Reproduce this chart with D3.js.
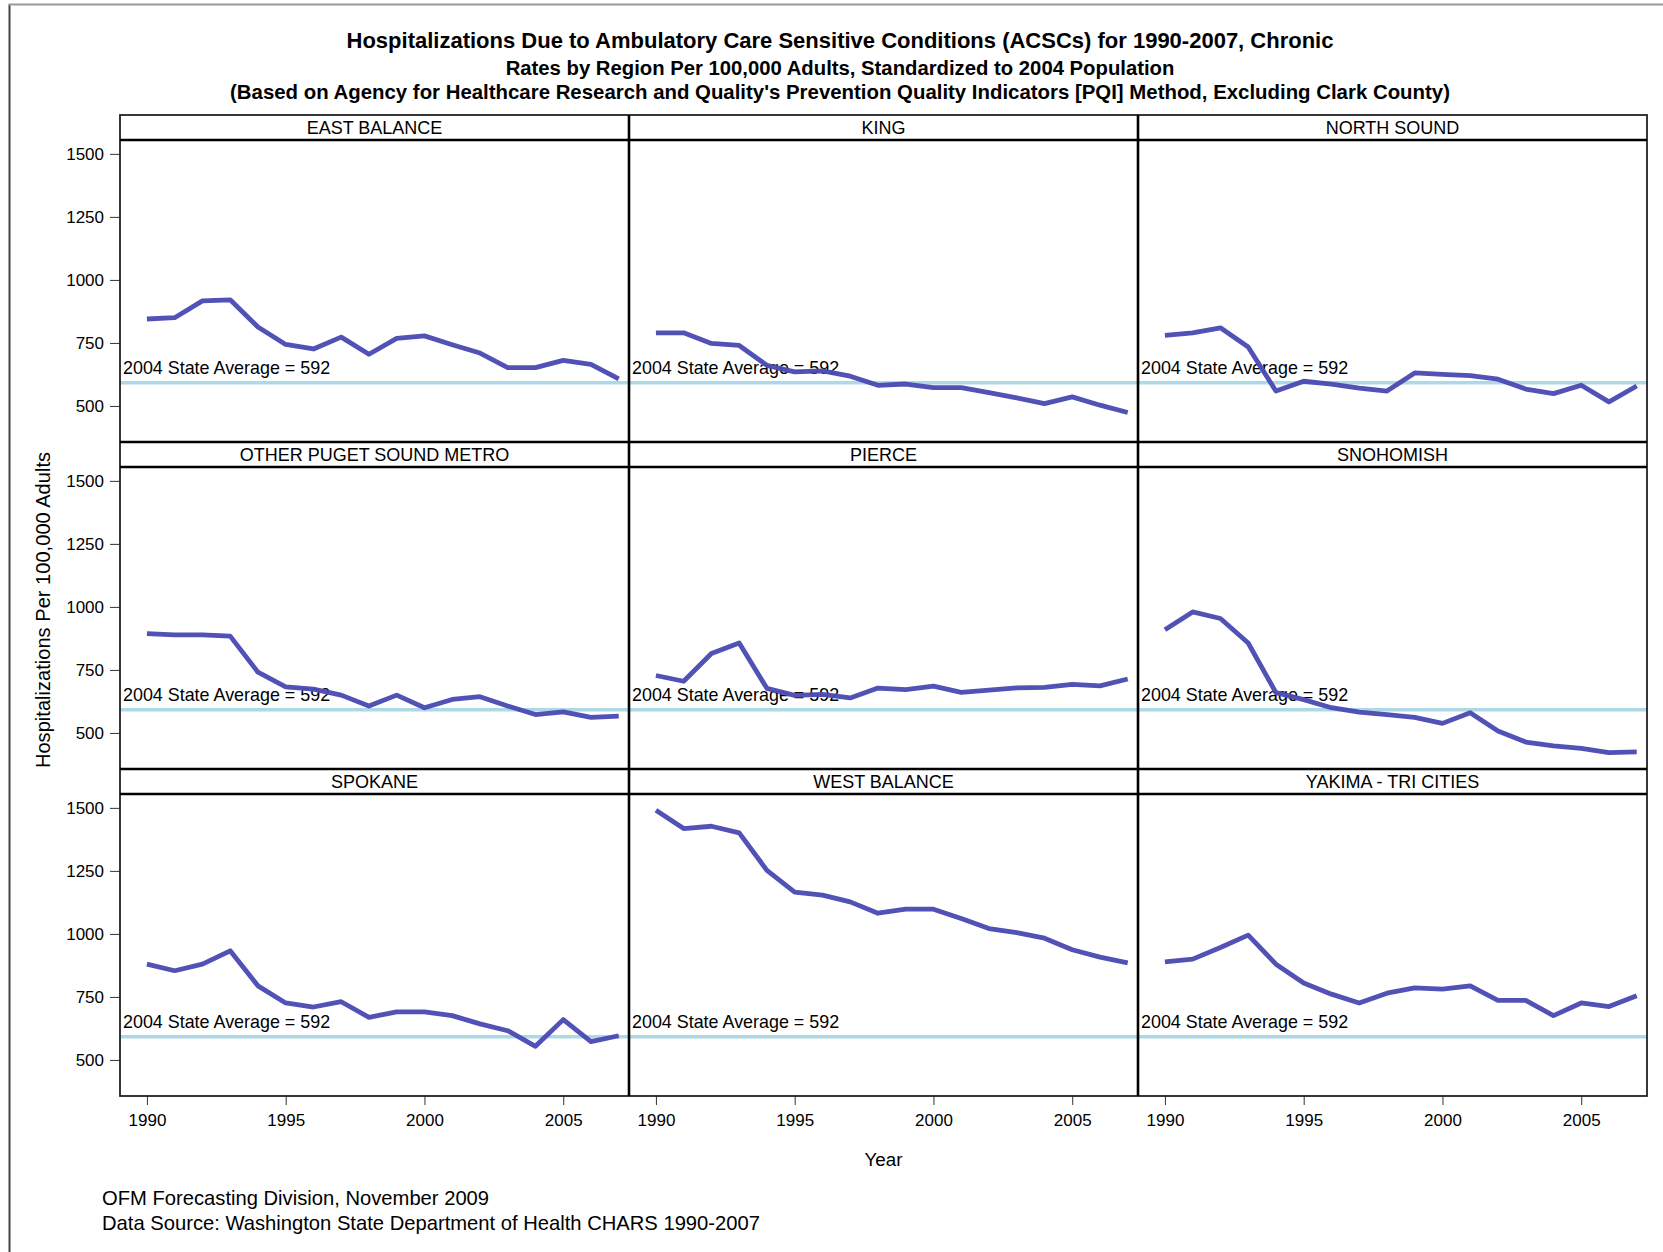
<!DOCTYPE html>
<html><head><meta charset="utf-8">
<script src="https://cdn.jsdelivr.net/npm/d3@7"></script>
<style>
body{margin:0;background:#fff}
svg{display:block}
text{font-family:"Liberation Sans",Arial,sans-serif;fill:#000}
</style>
</head><body>
<svg id="chart" width="1663" height="1252"></svg>
<script>
// ---- data ----
const years = [1990,1991,1992,1993,1994,1995,1996,1997,1998,1999,2000,2001,2002,2003,2004,2005,2006,2007];
const regions = ["EAST BALANCE","KING","NORTH SOUND","OTHER PUGET SOUND METRO","PIERCE","SNOHOMISH","SPOKANE","WEST BALANCE","YAKIMA - TRI CITIES"];
const eastBalance   = [845,850,917,921,813,744,726,773,705,768,778,743,710,652,652,681,665,607];
const king          = [790,790,748,740,661,635,639,618,582,587,573,573,553,532,509,536,503,474];
const northSound    = [780,790,810,734,559,598,587,571,559,631,625,620,606,567,549,582,516,579];
const otherPuget    = [894,889,889,884,741,683,674,650,607,650,600,633,644,607,573,584,562,567];
const pierce        = [728,705,815,857,677,649,653,639,678,672,686,661,670,679,681,693,687,714];
const snohomish     = [909,980,954,857,660,632,600,583,573,562,538,580,508,464,449,439,422,425];
const spokane       = [880,854,880,933,794,726,710,731,669,691,691,676,643,616,554,660,573,596];
const westBalance   = [1491,1418,1427,1401,1252,1166,1154,1127,1082,1098,1098,1061,1021,1005,983,937,908,885];
const yakima        = [889,900,946,995,880,805,761,726,765,786,781,794,736,736,676,726,712,755];
const seriesValues  = [eastBalance,king,northSound,otherPuget,pierce,snohomish,spokane,westBalance,yakima];
const stateAverage = 592;
const yTicks = [500,750,1000,1250,1500];
const xTicks = [1990,1995,2000,2005];
const titleLines = [
  "Hospitalizations Due to Ambulatory Care Sensitive Conditions (ACSCs) for 1990-2007, Chronic",
  "Rates by Region Per 100,000 Adults, Standardized to 2004 Population",
  "(Based on Agency for Healthcare Research and Quality's Prevention Quality Indicators [PQI] Method, Excluding Clark County)"
];
const footnotes = ["OFM Forecasting Division, November 2009","Data Source: Washington State Department of Health CHARS 1990-2007"];

// ---- layout ----
const svg = d3.select("#chart");
const gridL = 120, colW = 509, gridTop = 115, stripH = 25, panelH = 302, nCols = 3, nRows = 3;
const rowH = stripH + panelH;
const gridR = gridL + nCols*colW, gridB = gridTop + nRows*rowH;

const x = d3.scaleLinear().domain([1989.03, 2007.37]).range([0, colW]);
const y = d3.scaleLinear().domain([357, 1555]).range([panelH, 0]);

// page frame
svg.append("line").attr("x1",9.5).attr("x2",9.5).attr("y1",4).attr("y2",1252).attr("stroke","#444").attr("stroke-width",2);
svg.append("line").attr("x1",9).attr("x2",1663).attr("y1",4.5).attr("y2",4.5).attr("stroke","#999").attr("stroke-width",2);

// titles
const tcx = 840;
svg.append("text").attr("x",tcx).attr("y",48).attr("text-anchor","middle").attr("font-weight","bold").attr("font-size",22).text(titleLines[0]);
svg.append("text").attr("x",tcx).attr("y",75).attr("text-anchor","middle").attr("font-weight","bold").attr("font-size",20.3).text(titleLines[1]);
svg.append("text").attr("x",tcx).attr("y",98.5).attr("text-anchor","middle").attr("font-weight","bold").attr("font-size",20.4).text(titleLines[2]);

const line = d3.line().x((d,i)=>x(years[i])).y(d=>y(d));

regions.forEach((name, i) => {
  const col = i % nCols, row = Math.floor(i / nCols);
  const gx = gridL + col*colW;
  const sTop = gridTop + row*rowH;
  const pTop = sTop + stripH;
  const g = svg.append("g").attr("transform",`translate(${gx},${pTop})`);
  // reference line
  g.append("line").attr("x1",0).attr("x2",colW).attr("y1",y(stateAverage)).attr("y2",y(stateAverage))
    .attr("stroke","#ADD8E6").attr("stroke-width",3.5);
  g.append("text").attr("x",3).attr("y",y(stateAverage)-9).attr("font-size",17.9)
    .text(`2004 State Average = ${stateAverage}`);
  // data line
  g.append("path").datum(seriesValues[i]).attr("d",line).attr("fill","none")
    .attr("stroke","#4B4BB4").attr("stroke-width",4.8).attr("stroke-linejoin","round").attr("stroke-opacity",0.97);
  // strip label
  svg.append("text").attr("x",gx+colW/2).attr("y",sTop+18.5).attr("text-anchor","middle").attr("font-size",18).text(name);
  // left y axis
  if (col === 0) {
    const ax = svg.append("g").attr("transform",`translate(${gridL},${pTop})`)
      .call(d3.axisLeft(y).tickValues(yTicks).tickFormat(d3.format("d")).tickSize(10).tickPadding(6).tickSizeOuter(0));
    ax.select(".domain").remove();
    ax.selectAll("line").attr("stroke","#333");
    ax.selectAll("text").attr("font-size",17).attr("font-family",null);
  }
  // bottom x axis
  if (row === nRows-1) {
    const ax = svg.append("g").attr("transform",`translate(${gx},${pTop+panelH})`)
      .call(d3.axisBottom(x).tickValues(xTicks).tickFormat(d3.format("d")).tickSize(9).tickPadding(9).tickSizeOuter(0));
    ax.select(".domain").remove();
    ax.selectAll("line").attr("stroke","#333");
    ax.selectAll("text").attr("font-size",17).attr("font-family",null);
  }
});

// borders: outer thin, inner thick
svg.append("rect").attr("x",gridL).attr("y",gridTop).attr("width",gridR-gridL).attr("height",gridB-gridTop)
  .attr("fill","none").attr("stroke","#222").attr("stroke-width",1.8);
for (let c=1;c<nCols;c++){
  svg.append("line").attr("x1",gridL+c*colW).attr("x2",gridL+c*colW).attr("y1",gridTop).attr("y2",gridB)
    .attr("stroke","#000").attr("stroke-width",2.6);
}
for (let r=0;r<nRows;r++){
  const sTop = gridTop + r*rowH;
  if (r>0) svg.append("line").attr("x1",gridL).attr("x2",gridR).attr("y1",sTop).attr("y2",sTop).attr("stroke","#000").attr("stroke-width",2.6);
  svg.append("line").attr("x1",gridL).attr("x2",gridR).attr("y1",sTop+stripH).attr("y2",sTop+stripH).attr("stroke","#000").attr("stroke-width",2.6);
}

// axis titles
svg.append("text").attr("transform",`translate(49.5,610) rotate(-90)`).attr("text-anchor","middle").attr("font-size",20.1)
  .text("Hospitalizations Per 100,000 Adults");
svg.append("text").attr("x",(gridL+gridR)/2).attr("y",1166).attr("text-anchor","middle").attr("font-size",18.75).text("Year");

// footnotes
svg.append("text").attr("x",102).attr("y",1205).attr("font-size",20.2).text(footnotes[0]);
svg.append("text").attr("x",102).attr("y",1230).attr("font-size",20.2).text(footnotes[1]);
</script>
</body></html>
